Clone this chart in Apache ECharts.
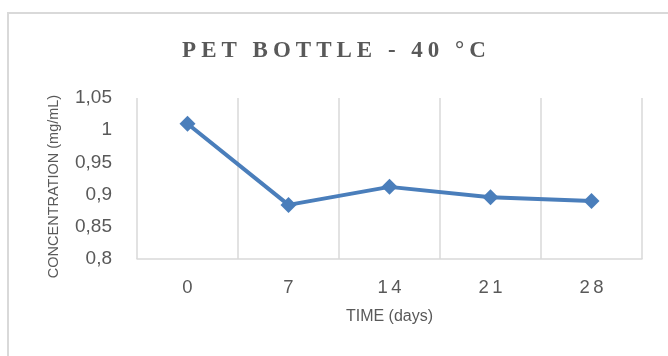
<!DOCTYPE html>
<html>
<head>
<meta charset="utf-8">
<script src="https://cdn.jsdelivr.net/npm/echarts@6/dist/echarts.min.js"></script>
<style>
  html, body { margin: 0; padding: 0; background: #ffffff; }
  #chart { width: 668px; height: 356px; }
</style>
</head>
<body>
<div id="chart"></div>
<script>
// Concentration of the PET bottle samples stored at 40 °C
const titleText = 'PET BOTTLE - 40 °C';
const days = ['0', '7', '14', '21', '28'];
const concentration = [1.01, 0.884, 0.912, 0.896, 0.890];
const yTicks = { min: 0.8, max: 1.05, interval: 0.05 };
const xAxisTitle = 'TIME (days)';
const yAxisTitle = 'CONCENTRATION (mg/mL)';

const grey = '#595959';
const gridGrey = '#d9d9d9';
const blue = '#4a7ebb';
const sans = '"Liberation Sans", Arial, sans-serif';

// wrap every character in its own rich segment so the text can be spaced out
function spaced(str, style) {
  return str.split('').map(function (c) { return '{' + style + '|' + c + '}'; }).join('');
}

const chart = echarts.init(document.getElementById('chart'), null, { renderer: 'canvas' });

chart.setOption({
  animation: false,
  backgroundColor: '#ffffff',
  graphic: [{
    type: 'rect',
    shape: { x: 8, y: 13, width: 720, height: 400 },
    style: { fill: 'none', stroke: gridGrey, lineWidth: 2 },
    silent: true,
    z: -10
  }],
  title: {
    text: spaced(titleText, 's'),
    left: 'center',
    top: 35,
    padding: [5, 5, 5, 13],
    textStyle: {
      rich: {
        s: {
          fontFamily: '"Liberation Serif", "Times New Roman", serif',
          fontWeight: 'bold',
          fontSize: 23,
          color: grey,
          padding: [0, 2.5]
        }
      }
    }
  },
  grid: { left: 137, right: 26, top: 98, bottom: 97 },
  xAxis: {
    type: 'category',
    data: days,
    boundaryGap: true,
    axisLine: { show: true, lineStyle: { color: gridGrey, width: 1.5 } },
    axisTick: { show: false },
    splitLine: { show: true, lineStyle: { color: gridGrey, width: 1.5 } },
    axisLabel: {
      margin: 19,
      formatter: function (v) { return spaced(v, 'd'); },
      rich: {
        d: {
          fontFamily: sans,
          fontSize: 18.5,
          color: grey,
          padding: [0, 1.8]
        }
      }
    },
    name: xAxisTitle,
    nameLocation: 'middle',
    nameGap: 50,
    nameTextStyle: {
      fontFamily: sans,
      fontSize: 16,
      color: grey
    }
  },
  yAxis: {
    type: 'value',
    min: yTicks.min,
    max: yTicks.max,
    interval: yTicks.interval,
    axisLine: { show: false },
    axisTick: { show: false },
    splitLine: { show: false },
    axisLabel: {
      margin: 25,
      fontFamily: sans,
      fontSize: 19,
      color: grey,
      formatter: function (v) {
        return String(Math.round(v * 100) / 100).replace('.', ',');
      }
    },
    name: yAxisTitle,
    nameLocation: 'middle',
    nameGap: 76,
    nameTextStyle: {
      fontFamily: sans,
      fontSize: 14.5,
      color: grey,
      padding: [0, 16, 0, 0]
    }
  },
  series: [{
    type: 'line',
    data: concentration,
    symbol: 'diamond',
    symbolSize: 16,
    lineStyle: { color: blue, width: 4 },
    itemStyle: { color: blue },
    z: 5
  }]
});
</script>
</body>
</html>
